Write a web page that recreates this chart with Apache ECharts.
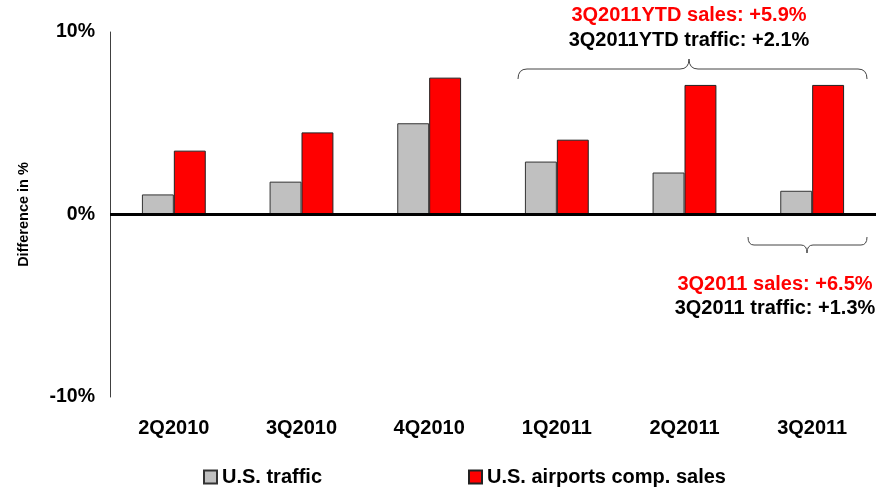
<!DOCTYPE html>
<html>
<head>
<meta charset="utf-8">
<script src="https://cdn.jsdelivr.net/npm/echarts@6/dist/echarts.min.js"></script>
<style>html,body{margin:0;padding:0;background:#fff}#c{width:879px;height:490px}</style>
</head>
<body>
<div id="c"></div>
<script>
var categories = ['2Q2010', '3Q2010', '4Q2010', '1Q2011', '2Q2011', '3Q2011'];
var trafficValues = [1.1, 1.8, 5.0, 2.9, 2.3, 1.3];
var salesValues = [3.5, 4.5, 7.5, 4.1, 7.1, 7.1];
var yTicks = [-10, 0, 10];
var seriesNames = ['U.S. traffic', 'U.S. airports comp. sales'];

var FONT = '"Liberation Sans", Arial, sans-serif';
var BRACE_STYLE = { stroke: '#444', lineWidth: 1, fill: 'none' };

// brace: x1..x2 horizontal at y, ends bend to yEnd, tip at xm to yTip
function brace(x1, x2, xm, y, yEnd, yTip, r) {
  var s = BRACE_STYLE;
  return [
    { type: 'bezierCurve', shape: { x1: x1, y1: yEnd, cpx1: x1, cpy1: y, x2: x1 + r, y2: y }, style: s },
    { type: 'line', shape: { x1: x1 + r, y1: y, x2: xm - r, y2: y }, style: s },
    { type: 'bezierCurve', shape: { x1: xm - r, y1: y, cpx1: xm, cpy1: y, x2: xm, y2: yTip }, style: s },
    { type: 'bezierCurve', shape: { x1: xm, y1: yTip, cpx1: xm, cpy1: y, x2: xm + r, y2: y }, style: s },
    { type: 'line', shape: { x1: xm + r, y1: y, x2: x2 - r, y2: y }, style: s },
    { type: 'bezierCurve', shape: { x1: x2 - r, y1: y, cpx1: x2, cpy1: y, x2: x2, y2: yEnd }, style: s }
  ];
}

var graphics = [].concat(
  brace(518, 867, 689, 69, 79, 59, 9),
  brace(748, 867, 807, 245, 237, 253, 6),
  [
    { type: 'text', style: { text: '3Q2011YTD sales: +5.9%', x: 689, y: 15, align: 'center', verticalAlign: 'middle',
      fill: '#FF0000', font: 'bold 20px ' + FONT } },
    { type: 'text', style: { text: '3Q2011YTD traffic: +2.1%', x: 689, y: 40, align: 'center', verticalAlign: 'middle',
      fill: '#000', font: 'bold 20px ' + FONT } },
    { type: 'text', style: { text: '3Q2011 sales: +6.5%', x: 775, y: 284, align: 'center', verticalAlign: 'middle',
      fill: '#FF0000', font: 'bold 20px ' + FONT } },
    { type: 'text', style: { text: '3Q2011 traffic: +1.3%', x: 775, y: 308, align: 'center', verticalAlign: 'middle',
      fill: '#000', font: 'bold 20px ' + FONT } }
  ]
);

var chart = echarts.init(document.getElementById('c'));
chart.setOption({
  animation: false,
  backgroundColor: '#fff',
  grid: { left: 110, right: 3, top: 32, bottom: 93, containLabel: false },
  legend: [
    { data: [seriesNames[0]], left: 198, top: 462, icon: 'rect', itemWidth: 13, itemHeight: 13, itemGap: 4,
      textStyle: { fontFamily: FONT, fontWeight: 'bold', fontSize: 20, color: '#000' } },
    { data: [seriesNames[1]], left: 463, top: 462, icon: 'rect', itemWidth: 13, itemHeight: 13, itemGap: 4,
      textStyle: { fontFamily: FONT, fontWeight: 'bold', fontSize: 20, color: '#000' } }
  ],
  xAxis: {
    type: 'category',
    data: categories,
    axisLine: { show: false },
    axisTick: { show: false },
    axisLabel: { margin: 21, fontFamily: FONT, fontWeight: 'bold', fontSize: 20, color: '#000' }
  },
  yAxis: {
    type: 'value',
    min: yTicks[0], max: yTicks[yTicks.length - 1], interval: 10,
    name: 'Difference in %',
    nameLocation: 'middle',
    nameGap: 79,
    nameTextStyle: { fontFamily: FONT, fontWeight: 'bold', fontSize: 14.5, color: '#000' },
    axisLine: { show: true, lineStyle: { color: '#404040', width: 1 } },
    axisTick: { show: false },
    splitLine: { show: false },
    axisLabel: { margin: 15, fontFamily: FONT, fontWeight: 'bold', fontSize: 19.5, color: '#000',
      formatter: function (v) { return v + '%'; } }
  },
  series: [
    { name: seriesNames[0], type: 'bar', data: trafficValues, barGap: '0%', barCategoryGap: '50%',
      itemStyle: { color: '#C0C0C0', borderColor: '#333', borderWidth: 1 },
      markLine: { silent: true, symbol: 'none', label: { show: false },
        lineStyle: { color: '#000', width: 3, type: 'solid' }, data: [{ yAxis: 0 }] } },
    { name: seriesNames[1], type: 'bar', data: salesValues,
      itemStyle: { color: '#FF0000', borderColor: '#222', borderWidth: 1 } }
  ],
  graphic: graphics
});
</script>
</body>
</html>
